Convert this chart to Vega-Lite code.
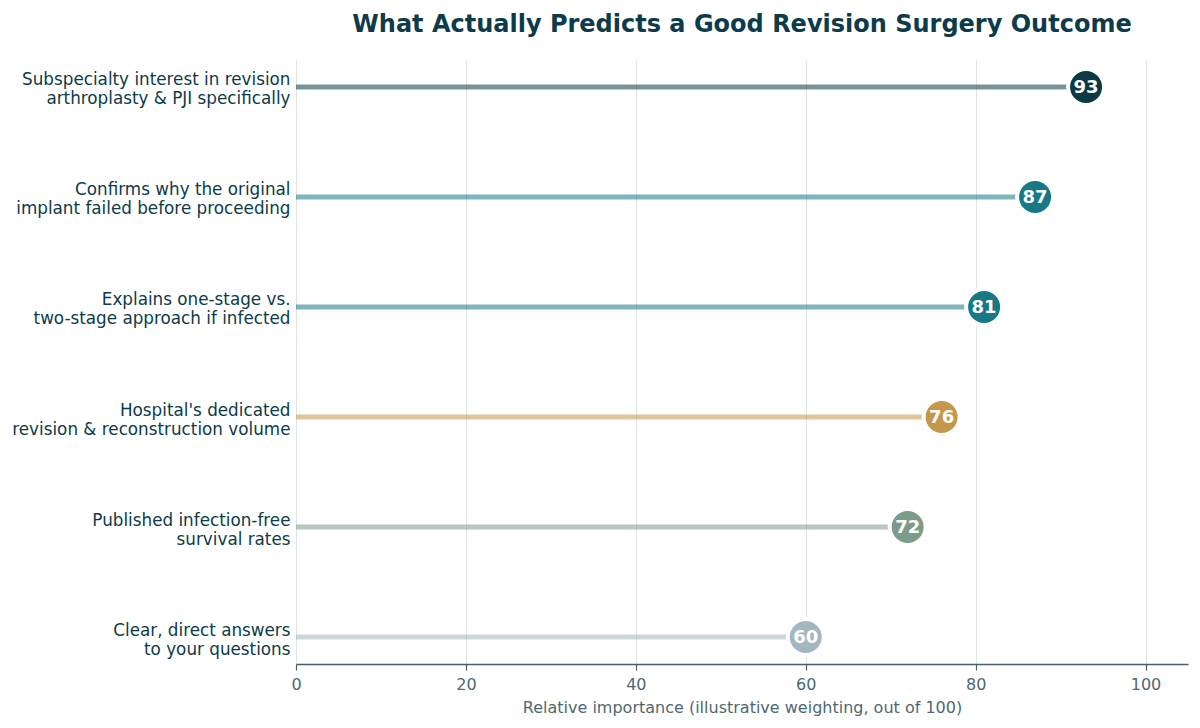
{
  "$schema": "https://vega.github.io/schema/vega-lite/v6.json",
  "width": 892,
  "height": 604,
  "autosize": "none",
  "padding": {"left": 296, "top": 60, "right": 12, "bottom": 64},
  "background": "white",
  "title": {
    "text": "What Actually Predicts a Good Revision Surgery Outcome",
    "font": "DejaVu Sans",
    "fontSize": 24,
    "fontWeight": "bold",
    "color": "#0d3b4a",
    "anchor": "middle",
    "offset": 23
  },
  "data": {
    "values": [
      {"factor": "Subspecialty interest in revision|arthroplasty & PJI specifically", "score": 93},
      {"factor": "Confirms why the original|implant failed before proceeding", "score": 87},
      {"factor": "Explains one-stage vs.|two-stage approach if infected", "score": 81},
      {"factor": "Hospital's dedicated|revision & reconstruction volume", "score": 76},
      {"factor": "Published infection-free|survival rates", "score": 72},
      {"factor": "Clear, direct answers|to your questions", "score": 60}
    ]
  },
  "encoding": {
    "y": {
      "field": "factor",
      "type": "nominal",
      "sort": null,
      "title": null,
      "scale": {"type": "point", "padding": 0.245},
      "axis": {
        "labelExpr": "split(datum.label, '|')",
        "labelFont": "DejaVu Sans",
        "labelFontSize": 16.8,
        "labelLineHeight": 19,
        "labelColor": "#0d3b4a",
        "labelPadding": 6,
        "labelOffset": -7,
        "ticks": false,
        "domain": false,
        "grid": false,
        "labelLimit": 400
      }
    },
    "x": {
      "field": "score",
      "type": "quantitative",
      "scale": {"domain": [0, 105], "nice": false},
      "title": "Relative importance (illustrative weighting, out of 100)",
      "axis": {
        "values": [0, 20, 40, 60, 80, 100],
        "labelFont": "DejaVu Sans",
        "labelFontSize": 16,
        "labelColor": "#4f6870",
        "labelPadding": 6,
        "labelFlush": false,
        "titleFont": "DejaVu Sans",
        "titleFontSize": 16,
        "titleFontWeight": "normal",
        "titleColor": "#4f6870",
        "titlePadding": 7,
        "domainColor": "#4a5f66",
        "domainWidth": 1.5,
        "tickColor": "#4a5f66",
        "tickSize": 6,
        "tickWidth": 1.2,
        "grid": true,
        "gridColor": "#dde3e6",
        "gridWidth": 1
      }
    }
  },
  "layer": [
    {
      "mark": {"type": "rule", "strokeWidth": 5, "opacity": 0.55},
      "encoding": {
        "x2": {"datum": 0},
        "color": {
          "field": "factor",
          "type": "nominal",
          "legend": null,
          "scale": {
            "domain": [
              "Subspecialty interest in revision|arthroplasty & PJI specifically",
              "Confirms why the original|implant failed before proceeding",
              "Explains one-stage vs.|two-stage approach if infected",
              "Hospital's dedicated|revision & reconstruction volume",
              "Published infection-free|survival rates",
              "Clear, direct answers|to your questions"
            ],
            "range": ["#0b3a47", "#167985", "#167985", "#c4974a", "#7c9c8a", "#a2b7bf"]
          }
        }
      }
    },
    {
      "mark": {"type": "circle", "size": 1296, "opacity": 1, "stroke": "white", "strokeWidth": 4},
      "encoding": {
        "color": {"field": "factor", "type": "nominal", "legend": null}
      }
    },
    {
      "mark": {"type": "text", "font": "DejaVu Sans", "fontSize": 18, "fontWeight": "bold", "color": "white", "baseline": "middle", "align": "center", "dy": 1},
      "encoding": {
        "text": {"field": "score", "type": "quantitative"}
      }
    }
  ],
  "config": {
    "view": {"stroke": null}
  }
}
